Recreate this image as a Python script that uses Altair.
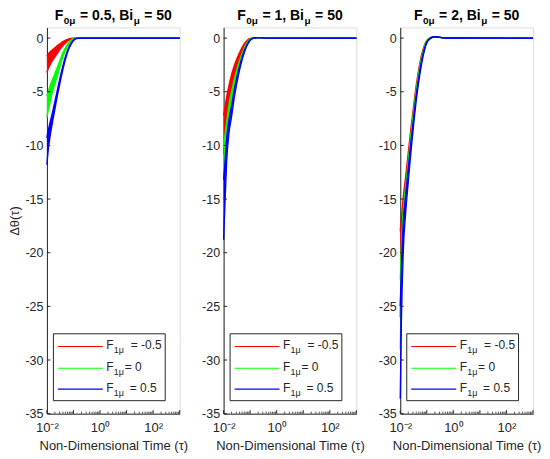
import altair as alt
import pandas as pd

# ---------------- data ----------------
TAU = [0.01, 0.011, 0.013, 0.016, 0.02, 0.025, 0.032, 0.04, 0.05, 0.063,
       0.08, 0.1, 0.13, 0.2, 0.5, 1000]

# Panel 1: F0mu = 0.5
P1_RED_HI = [-1.7, -1.5, -1.3, -1.1, -0.9, -0.7, -0.5, -0.32, -0.2, -0.1, -0.03, 0, 0, 0, 0, 0]
P1_RED_LO = [-3.2, -2.9, -2.5, -2.1, -1.75, -1.4, -1.0, -0.7, -0.45, -0.25, -0.1, -0.02, 0, 0, 0, 0]
P1_GREEN_HI = [-5.4, -5.0, -4.5, -3.9, -3.3, -2.7, -2.0, -1.35, -0.9, -0.5, -0.2, -0.06, 0, 0, 0, 0]
P1_GREEN_LO = [-7.4, -6.8, -6.0, -5.0, -4.2, -3.5, -2.5, -1.75, -1.15, -0.65, -0.28, -0.08, 0, 0, 0, 0]
P1_BLUE_HI = [-9.3, -8.7, -7.9, -7.0, -5.9, -4.8, -3.6, -2.6, -1.7, -1.0, -0.5, -0.18, -0.02, 0, 0, 0]
P1_BLUE_LO = [-11.8, -10.6, -9.2, -7.9, -6.6, -5.3, -4.0, -2.9, -1.95, -1.15, -0.6, -0.22, -0.03, 0, 0, 0]

# Panel 2: F0mu = 1
P2_RED_HI = [-7.2, -6.6, -5.5, -4.4, -3.4, -2.6, -1.9, -1.35, -0.85, -0.45, -0.18, -0.04, 0, 0.03, 0, 0]
P2_RED_LO = [-10.8, -9.8, -8.3, -6.6, -5.1, -3.9, -2.9, -2.1, -1.35, -0.75, -0.32, -0.08, 0, 0.03, 0, 0]
P2_GREEN_HI = [-10.2, -9.3, -7.9, -6.2, -5.0, -3.9, -2.9, -2.1, -1.4, -0.8, -0.35, -0.1, 0, 0.04, 0, 0]
P2_GREEN_LO = [-15.1, -13.0, -10.3, -7.8, -6.2, -4.8, -3.5, -2.5, -1.65, -1.0, -0.45, -0.13, 0, 0.04, 0, 0]
P2_BLUE_HI = [-13.2, -12.0, -9.4, -7.6, -6.3, -4.9, -3.6, -2.6, -1.75, -1.05, -0.5, -0.17, 0, 0.05, 0, 0]
P2_BLUE_LO = [-18.8, -16.0, -11.5, -8.8, -7.3, -5.6, -4.1, -2.95, -2.0, -1.2, -0.6, -0.2, -0.02, 0.05, 0, 0]

# Panel 3: F0mu = 2
P3_RED_HI = [-18.0, -16.8, -14.8, -12.9, -10.7, -8.5, -6.3, -4.4, -2.9, -1.6, -0.7, -0.22, 0.02, 0.12, 0.01, 0]
P3_RED_LO = [-26.0, -21.0, -16.5, -14.0, -11.5, -9.2, -6.9, -4.9, -3.3, -1.9, -0.85, -0.28, 0.0, 0.12, 0.01, 0]
P3_GREEN_HI = [-22.5, -19.5, -16.0, -13.8, -11.5, -9.1, -6.8, -4.8, -3.2, -1.85, -0.85, -0.27, 0.0, 0.12, 0.01, 0]
P3_GREEN_LO = [-29.0, -23.5, -18.0, -15.0, -12.4, -9.9, -7.4, -5.3, -3.6, -2.15, -1.0, -0.33, -0.02, 0.12, 0.01, 0]
P3_BLUE_HI = [-25.0, -21.5, -17.2, -14.6, -12.2, -9.8, -7.4, -5.3, -3.6, -2.15, -1.05, -0.38, -0.05, 0.12, 0.01, 0]
P3_BLUE_LO = [-33.6, -26.5, -19.8, -16.2, -13.4, -10.7, -8.0, -5.8, -4.0, -2.45, -1.2, -0.42, -0.07, 0.12, 0.01, 0]

F0_VALUES = ["0.5", "1", "2"]
BI_VALUE = "50"
SERIES = ["red", "green", "blue"]
F1_LABELS = ["-0.5", "0", "0.5"]
COLORS = {"red": "#ff0000", "green": "#00ff00", "blue": "#0000ff"}

CURVES = [
    {"red": (P1_RED_HI, P1_RED_LO), "green": (P1_GREEN_HI, P1_GREEN_LO), "blue": (P1_BLUE_HI, P1_BLUE_LO)},
    {"red": (P2_RED_HI, P2_RED_LO), "green": (P2_GREEN_HI, P2_GREEN_LO), "blue": (P2_BLUE_HI, P2_BLUE_LO)},
    {"red": (P3_RED_HI, P3_RED_LO), "green": (P3_GREEN_HI, P3_GREEN_LO), "blue": (P3_BLUE_HI, P3_BLUE_LO)},
]

X_LABEL_VALUES = [0.01, 1, 100]
X_MAJOR = [0.01, 0.1, 1, 10, 100, 1000]
X_MINOR = [m * 10.0 ** k for k in range(-2, 3) for m in range(2, 10)]
Y_TICKS = [-35, -30, -25, -20, -15, -10, -5, 0]

# ---------------- styling ----------------
W, H = 133, 387
AXC = "#262626"
FONT = "Liberation Sans"

BOLD = {'F': 611, 'μ': 611, ' ': 278, '=': 584, '.': 278, ',': 278, 'B': 722, 'i': 278, '-': 333}


def text_w(s, size, table):
    return sum(table.get(c, 556) for c in s) * size / 1000.0


XS = alt.Scale(type="log", domain=[0.01, 1000], nice=False)
YS = alt.Scale(domain=[-35, 1], nice=False, zero=False)

DUMMY = pd.DataFrame({"d": [0]})


def make_panel(i):
    xax = alt.Axis(values=X_LABEL_VALUES,
                   labelExpr="datum.value < 0.1 ? '10⁻²' : (datum.value < 10 ? '10⁰' : '10²')",
                   ticks=False, grid=False, domainColor=AXC, domainWidth=1, labelFlush=False,
                   labelColor=AXC, labelFontSize=13, labelPadding=8, labelFont=FONT,
                   title="Non-Dimensional Time (τ)", titleFontSize=13,
                   titleFontWeight="normal", titleColor=AXC, titlePadding=5, titleFont=FONT)
    if i == 0:
        yax = alt.Axis(values=Y_TICKS, labelExpr="datum.value + ''", ticks=False, grid=False,
                       domainColor=AXC, domainWidth=1, labelColor=AXC, labelFontSize=12.5,
                       labelPadding=4, labelFont=FONT, labelFlush=False, title="Δθ(τ)", titleFontSize=13,
                       titleFontWeight="normal", titleColor=AXC, titlePadding=3, titleFont=FONT)
    else:
        yax = alt.Axis(values=Y_TICKS, labelExpr="datum.value + ''", ticks=False, grid=False,
                       domainColor=AXC, domainWidth=1, labelColor=AXC, labelFontSize=12.5,
                       labelPadding=4, labelFont=FONT, labelFlush=False, title=None)

    def X(f):
        return alt.X(f, type="quantitative", scale=XS, axis=xax)

    def Y(f):
        return alt.Y(f, type="quantitative", scale=YS, axis=yax)

    layers = []
    for s in SERIES:
        hi, lo = CURVES[i][s]
        df = pd.DataFrame({"tau": TAU, "hi": hi, "lo": lo})
        base = alt.Chart(df)
        layers.append(base.mark_area(color=COLORS[s], interpolate="monotone", opacity=1)
                      .encode(x=X("tau"), y=Y("lo"), y2="hi"))
        layers.append(base.mark_line(color=COLORS[s], strokeWidth=1.4, interpolate="monotone")
                      .encode(x=X("tau"), y=Y("hi")))
        layers.append(base.mark_line(color=COLORS[s], strokeWidth=1.4, interpolate="monotone")
                      .encode(x=X("tau"), y=Y("lo")))

    # inward tick marks
    layers.append(alt.Chart(pd.DataFrame({"tau": X_MAJOR})).mark_rule(color=AXC, strokeWidth=1)
                  .encode(x=X("tau"), y=alt.value(H), y2=alt.value(H - 3.5)))
    layers.append(alt.Chart(pd.DataFrame({"tau": X_MINOR})).mark_rule(color=AXC, strokeWidth=0.8)
                  .encode(x=X("tau"), y=alt.value(H), y2=alt.value(H - 2)))
    layers.append(alt.Chart(pd.DataFrame({"v": Y_TICKS})).mark_rule(color=AXC, strokeWidth=1)
                  .encode(y=Y("v"), x=alt.value(0), x2=alt.value(3.5)))

    # legend box
    dummy = alt.Chart(DUMMY)
    layers.append(dummy.mark_rect(fill="white", stroke=AXC, strokeWidth=1)
                  .encode(x=alt.value(6.5), x2=alt.value(118.5), y=alt.value(307), y2=alt.value(374)))
    row_y = [319.7, 341.5, 362.5]
    eq_x = [84, 78, 83]
    for r, s in enumerate(SERIES):
        ly = row_y[r]
        layers.append(dummy.mark_rule(color=COLORS[s], strokeWidth=1.2)
                      .encode(x=alt.value(11), x2=alt.value(56), y=alt.value(ly)))
        layers.append(dummy.mark_text(text="F", align="left", baseline="alphabetic", fontSize=12,
                                      font=FONT, color=AXC)
                      .encode(x=alt.value(59.5), y=alt.value(ly + 3)))
        layers.append(dummy.mark_text(text="1μ", align="left", baseline="alphabetic", fontSize=9,
                                      font=FONT, color=AXC)
                      .encode(x=alt.value(67), y=alt.value(ly + 7)))
        layers.append(dummy.mark_text(text="= " + F1_LABELS[r], align="left", baseline="alphabetic",
                                      fontSize=12, font=FONT, color=AXC)
                      .encode(x=alt.value(eq_x[r]), y=alt.value(ly + 3)))

    # panel title with subscripts (gap = explicit space after the segment)
    big, small = 14, 10
    segs = [("F", big, 0, 0.5), ("0μ", small, 1, 4.5), ("= " + F0_VALUES[i] + ", Bi", big, 0, 0.5),
            ("μ", small, 1, 4.5), ("= " + BI_VALUE, big, 0, 0)]
    total = sum(text_w(t, sz, BOLD) + g for t, sz, _, g in segs)
    xpos = W / 2.0 - total / 2.0
    for t, sz, sub, g in segs:
        layers.append(dummy.mark_text(text=t, align="left", baseline="alphabetic", fontSize=sz,
                                      fontWeight="bold", font=FONT, color="#000000")
                      .encode(x=alt.value(xpos), y=alt.value(-3.5 if sub else -7)))
        xpos += text_w(t, sz, BOLD) + g

    return alt.layer(*layers).properties(width=W, height=H)


chart = alt.hconcat(make_panel(0), make_panel(1), make_panel(2), spacing=44, bounds="flush") \
    .properties(padding={"left": 0, "top": 0, "right": 0, "bottom": 0}) \
    .configure_view(stroke=None) \
    .configure(font=FONT)

chart.save("out.html", embed_options={"renderer": "svg", "actions": False})
